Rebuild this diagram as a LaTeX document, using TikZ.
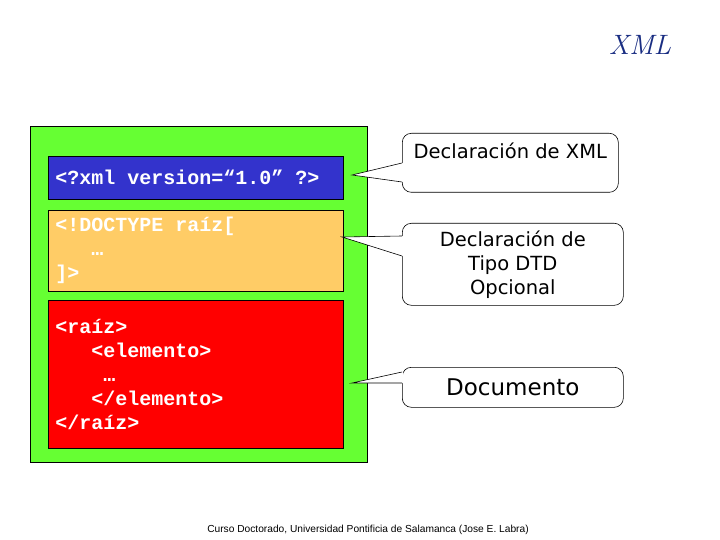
\documentclass[tikz,border=0pt]{standalone}
\usepackage{fontspec}
\setmainfont{DejaVu Sans}
\newfontfamily\codefont{Liberation Mono}[WordSpace={1,0,0}]
\newfontfamily\footfont{Liberation Sans}
\newfontfamily\titlefont{Latin Modern Roman}
\definecolor{xmlgreen}{RGB}{102,255,51}
\definecolor{xmlblue}{RGB}{51,51,204}
\definecolor{xmlorange}{RGB}{255,204,102}
\definecolor{xmlred}{RGB}{255,0,0}
\definecolor{titleblue}{RGB}{25,45,130}
\newcommand{\codesp}{\hspace*{12pt}}

\begin{document}
\begin{tikzpicture}[x=1pt,y=-1pt,
  codebox/.style={draw=black, line width=0.6pt, anchor=north west, minimum width=295pt,
    text width=281pt, inner xsep=7pt, inner ysep=0pt, align=left, text=white,
    font=\codefont\bfseries\fontsize{20}{24}\selectfont},
  callout/.style={draw=black, line width=0.6pt, rounded corners=9pt, anchor=north west,
    align=center, inner sep=0pt, font=\fontsize{19.5}{24}\selectfont}]
  \useasboundingbox (0,0) rectangle (720,540);
  \node[font=\titlefont\itshape\fontsize{28}{30}\selectfont, text=titleblue] (title) at (640,45) {XML};
  \node[draw=black, line width=0.6pt, fill=xmlgreen, anchor=north west, minimum width=337pt,
    minimum height=336pt, inner sep=0pt] (frame) at (30,126) {};
  \node[codebox, fill=xmlblue, minimum height=43pt] (decl) at (48,156)
    {<?xml\codesp version=“1.0”\codesp ?>};
  \node[codebox, fill=xmlorange, minimum height=81pt] (dtd) at (48,210)
    {<!DOCTYPE\codesp raíz[\\ \hspace*{36pt}…\\ ]>};
  \node[codebox, fill=xmlred, minimum height=148pt] (doc) at (48,300)
    {<raíz>\\ \hspace*{36pt}<elemento>\\ \hspace*{48pt}…\\ \hspace*{36pt}</elemento>\\ </raíz>};
  \node[callout, minimum width=216pt, minimum height=59pt] (calla) at (402,133)
    {Declaración de XML\\ \mbox{}};
  \node[callout, minimum width=221pt, minimum height=82pt] (callb) at (402,223)
    {Declaración de\\ Tipo DTD\\ Opcional};
  \node[callout, minimum width=221pt, minimum height=40pt, font=\fontsize{23}{26}\selectfont] (callc) at (402,367)
    {Documento};
  \coordinate (tipa) at (352,175);
  \coordinate (tipb) at (342,237);
  \coordinate (tipc) at (352,383);
  \foreach \c/\ya/\yb in {a/30/49, b/13/33, c/5/16}
    {\fill[white] ([xshift=0.8pt,yshift=-\ya pt]call\c.north west) -- (tip\c)
       -- ([xshift=0.8pt,yshift=-\yb pt]call\c.north west) -- cycle;
     \draw[line width=0.6pt] ([yshift=-\ya pt]call\c.north west) -- (tip\c)
       -- ([yshift=-\yb pt]call\c.north west);}
  \node[font=\footfont\fontsize{10.2}{12}\selectfont] (foot) at (368,530)
    {Curso Doctorado, Universidad Pontificia de Salamanca (Jose E. Labra)};
\end{tikzpicture}
\end{document}
